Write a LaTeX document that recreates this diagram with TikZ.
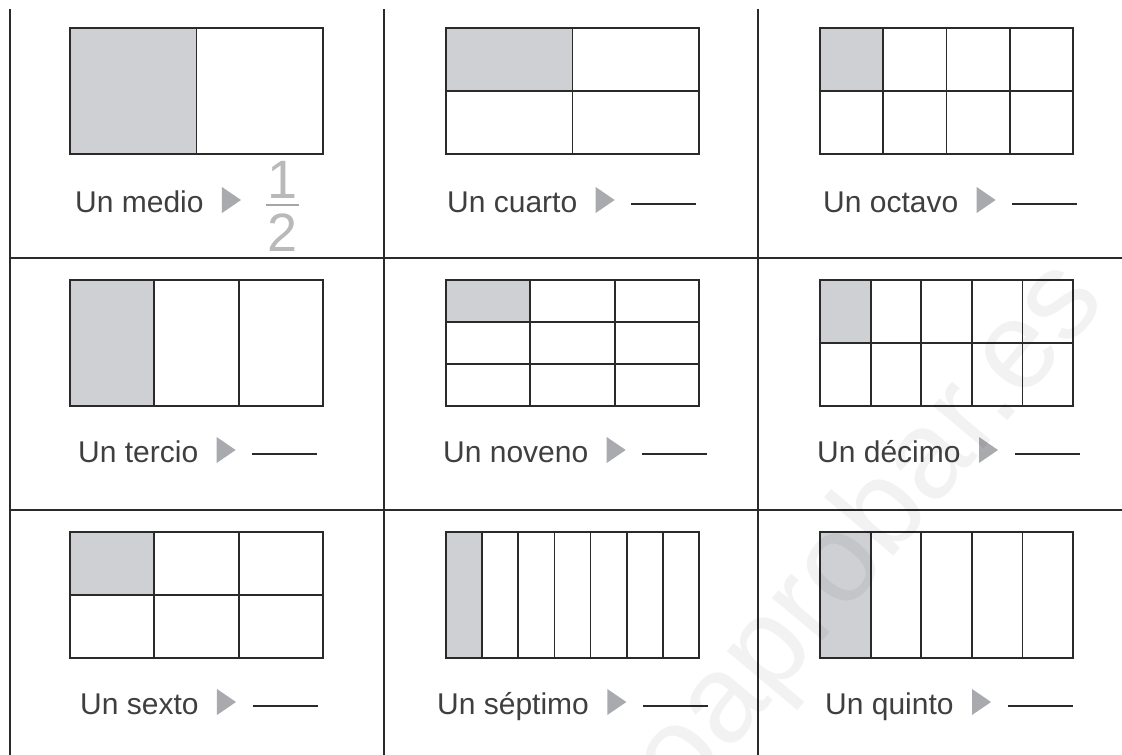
\documentclass[tikz,border=0pt]{standalone}
\usepackage{fontspec}
\setmainfont{Liberation Sans}
\usepackage{xcolor}
\usetikzlibrary{positioning,shapes.geometric,calc}

\definecolor{cellgray}{RGB}{206,208,211}
\definecolor{ink}{RGB}{42,42,42}
\definecolor{pointer}{RGB}{168,170,173}

% x, y, columns, rows -- first cell shaded
\newcommand{\fracgrid}[4]{%
  \fill[cellgray] (#1,#2) rectangle ++({253/#3},{126/#4});
  \foreach \i in {1,...,#3} \draw[cell] ({#1+\i*253/#3},#2) -- ++(0,126);
  \foreach \j in {1,...,#4} \draw[cell] (#1,{#2+\j*126/#4}) -- ++(253,0);
  \draw[cell] (#1,#2) rectangle ++(253,126);
}

\begin{document}
\begin{tikzpicture}[
    x=1pt, y=-1pt,
    node distance=18pt,
    cell/.style={draw=ink, line width=1.8pt},
    rule/.style={draw=ink, line width=1.6pt},
    lbl/.style={anchor=base west, inner sep=0pt, text height=24pt, text depth=0pt, text=ink!90, font=\fontsize{30}{36}\selectfont},
    tri/.style={isosceles triangle, isosceles triangle stretches, fill=pointer, inner sep=0pt, minimum width=26pt, minimum height=19pt},
    blank/.style={draw=ink, line width=1.6pt},
    digit/.style={inner sep=0pt, text=gray!55, font=\fontsize{54}{54}\selectfont}
  ]
    \useasboundingbox (0,0) rectangle (1122,755);

    % frame of the table
    \draw[rule] (10,9) -- (10,755);
    \draw[rule] (384,9) -- (384,755);
    \draw[rule] (758,9) -- (758,755);
    \draw[rule] (10,258) -- (1122,258);
    \draw[rule] (10,510) -- (1122,510);

    % the nine shapes
    \fracgrid{70}{28}{2}{1}
    \fracgrid{446}{28}{2}{2}
    \fracgrid{820}{28}{4}{2}
    \fracgrid{70}{280}{3}{1}
    \fracgrid{446}{280}{3}{3}
    \fracgrid{820}{280}{5}{2}
    \fracgrid{70}{532}{3}{2}
    \fracgrid{446}{532}{7}{1}
    \fracgrid{820}{532}{5}{1}

    % names
    \node[lbl] (medio) at (75,212) {Un medio};
    \node[lbl] (cuarto) at (447,212) {Un cuarto};
    \node[lbl] (octavo) at (823,212) {Un octavo};
    \node[lbl] (tercio) at (78,462) {Un tercio};
    \node[lbl] (noveno) at (443,462) {Un noveno};
    \node[lbl] (decimo) at (817,462) {Un décimo};
    \node[lbl] (sexto) at (80,714) {Un sexto};
    \node[lbl] (septimo) at (437,714) {Un séptimo};
    \node[lbl] (quinto) at (825,714) {Un quinto};

    \foreach \n in {medio,cuarto,octavo,tercio,noveno,decimo,sexto,septimo,quinto}
      \node[tri, right=of \n] (t-\n) {};

    % answer lines
    \foreach \n in {cuarto,octavo,tercio,noveno,decimo,sexto,septimo,quinto} {
      \coordinate[right=16pt of t-\n, yshift=-4pt] (b-\n);
      \draw[blank] (b-\n) -- ++(65,0);
    }

    % the worked example 1/2
    \coordinate[right=24pt of t-medio, yshift=-5pt] (bar);
    \draw[blank, draw=gray!70, line width=1.2pt] (bar) -- ++(33,0) coordinate (bar-e);
    \node[digit] (uno) at ($(bar)!0.5!(bar-e)+(0,-25)$) {1};
    \node[digit] (dos) at ($(bar)!0.5!(bar-e)+(0,28)$) {2};

    % watermark
    \node[rotate=50, opacity=0.05, text=black, font=\fontsize{125}{125}\selectfont] (marca) at (815,600) {todoaprobar.es};
\end{tikzpicture}
\end{document}
